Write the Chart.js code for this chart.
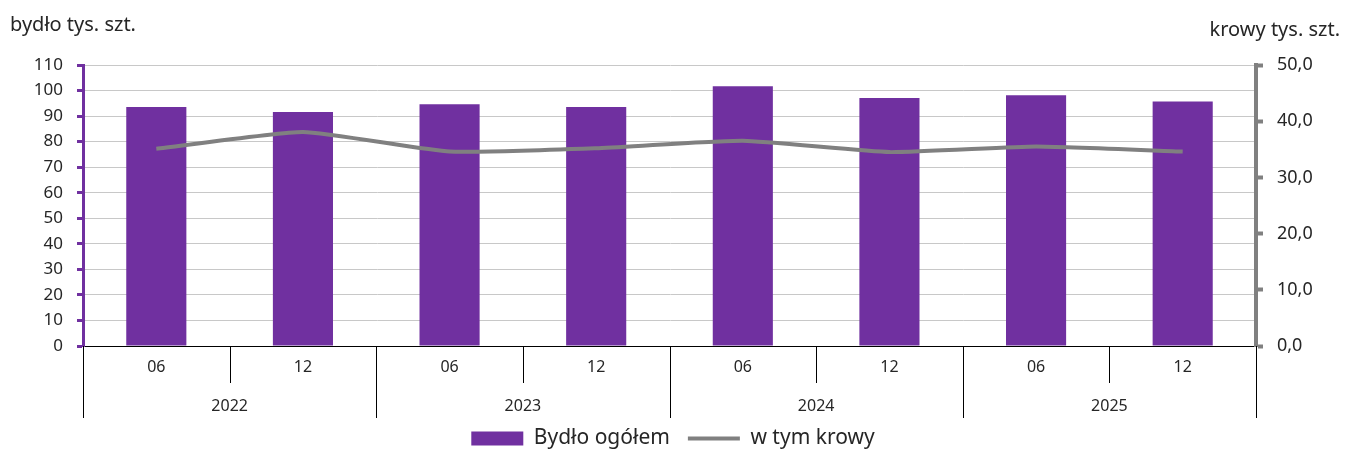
<!DOCTYPE html>
<html>
<head>
<meta charset="utf-8">
<script src="https://cdn.jsdelivr.net/npm/chart.js@4.4.1/dist/chart.umd.min.js"></script>
<style>
  html, body { margin: 0; padding: 0; background: #fff; }
</style>
</head>
<body>
<canvas id="myChart" width="1346" height="449"></canvas>
<script>
// chart data
const months = ['06', '12', '06', '12', '06', '12', '06', '12'];
const years = ['2022', '2023', '2024', '2025'];
const bydlo = [93.6, 91.6, 94.6, 93.6, 101.7, 97.1, 98.2, 95.7];   // bydło ogółem, tys. szt.
const krowy = [35.1, 38.1, 34.6, 35.2, 36.5, 34.5, 35.5, 34.6];    // w tym krowy, tys. szt.

const leftTitle = 'bydło tys. szt.';
const rightTitle = 'krowy tys. szt.';

const FONT = '"Noto Sans", sans-serif';
const TEXT = '#262626';
const PURPLE = '#7030A0';
const GREY = '#808080';

// separators under the x axis + year labels + axis titles
const extras = {
  id: 'extras',
  afterDraw(chart) {
    let ctx = chart.ctx;
    let x = chart.scales.x;
    let area = chart.chartArea;
    ctx.save();
    ctx.strokeStyle = '#000';
    ctx.lineWidth = 1;
    for (let i = 0; i <= months.length; i++) {
      let px = Math.round(x.getPixelForValue(i - 0.5)) + 0.5;
      let len = (i % 2 === 0) ? 72 : 37;   // year boundaries go lower
      ctx.beginPath();
      ctx.moveTo(px, area.bottom);
      ctx.lineTo(px, area.bottom + len);
      ctx.stroke();
    }
    ctx.fillStyle = TEXT;
    ctx.font = '16px ' + FONT;
    ctx.textAlign = 'center';
    ctx.textBaseline = 'middle';
    years.forEach((y, j) => {
      ctx.fillText(y, x.getPixelForValue(j * 2 + 0.5), area.bottom + 60);
    });
    ctx.font = '20px ' + FONT;
    ctx.textAlign = 'left';
    ctx.fillText(leftTitle, 10, 25);
    ctx.textAlign = 'right';
    ctx.fillText(rightTitle, 1340, 30);
    ctx.restore();
  }
};

let ctx = document.getElementById('myChart').getContext('2d');
let chart = new Chart(ctx, {
  data: {
    labels: months,
    datasets: [{
      type: 'bar',
      label: 'Bydło ogółem',
      data: bydlo,
      yAxisID: 'y',
      backgroundColor: PURPLE,
      borderColor: PURPLE,
      borderWidth: 0,
      barPercentage: 0.41,
      categoryPercentage: 1,
      pointStyle: 'rect',
      order: 1
    }, {
      type: 'line',
      label: 'w tym krowy',
      data: krowy,
      yAxisID: 'y1',
      borderColor: GREY,
      backgroundColor: GREY,
      borderWidth: 4,
      pointRadius: 0,
      tension: 0.15,
      pointStyle: 'line',
      order: 0
    }]
  },
  options: {
    responsive: false,
    animation: false,
    layout: { padding: { top: 65, left: 0, right: 0, bottom: -10 } },
    plugins: {
      tooltip: { enabled: false },
      legend: {
        position: 'bottom',
        labels: {
          usePointStyle: true,
          pointStyleWidth: 52,
          boxHeight: 14,
          padding: 18,
          color: TEXT,
          font: { family: FONT, size: 21 },
          sort: (a, b) => a.datasetIndex - b.datasetIndex
        }
      }
    },
    scales: {
      x: {
        grid: { display: true, drawOnChartArea: false, drawTicks: false },
        border: { color: '#000', width: 1 },
        ticks: { color: TEXT, font: { family: FONT, size: 16 }, padding: 12, maxRotation: 0 },
        afterFit: (scale) => { scale.height = 64; }
      },
      y: {
        position: 'left',
        min: 0,
        max: 110,
        ticks: { stepSize: 10, color: TEXT, font: { family: FONT, size: 17 }, padding: 14 },
        grid: { color: '#C8C8C8', lineWidth: 1, tickColor: PURPLE, tickWidth: 3, tickLength: 6 },
        border: { color: PURPLE, width: 3 },
        afterFit: (scale) => { scale.width = 83; }
      },
      y1: {
        position: 'right',
        min: 0,
        max: 50,
        ticks: {
          stepSize: 10, color: TEXT, font: { family: FONT, size: 18 }, padding: 14,
          callback: (v) => v.toFixed(1).replace('.', ',')
        },
        grid: { drawOnChartArea: false, tickColor: GREY, tickWidth: 4, tickLength: 7 },
        border: { color: GREY, width: 4 },
        afterFit: (scale) => { scale.width = 90; }
      }
    }
  },
  plugins: [extras]
});
</script>
</body>
</html>
